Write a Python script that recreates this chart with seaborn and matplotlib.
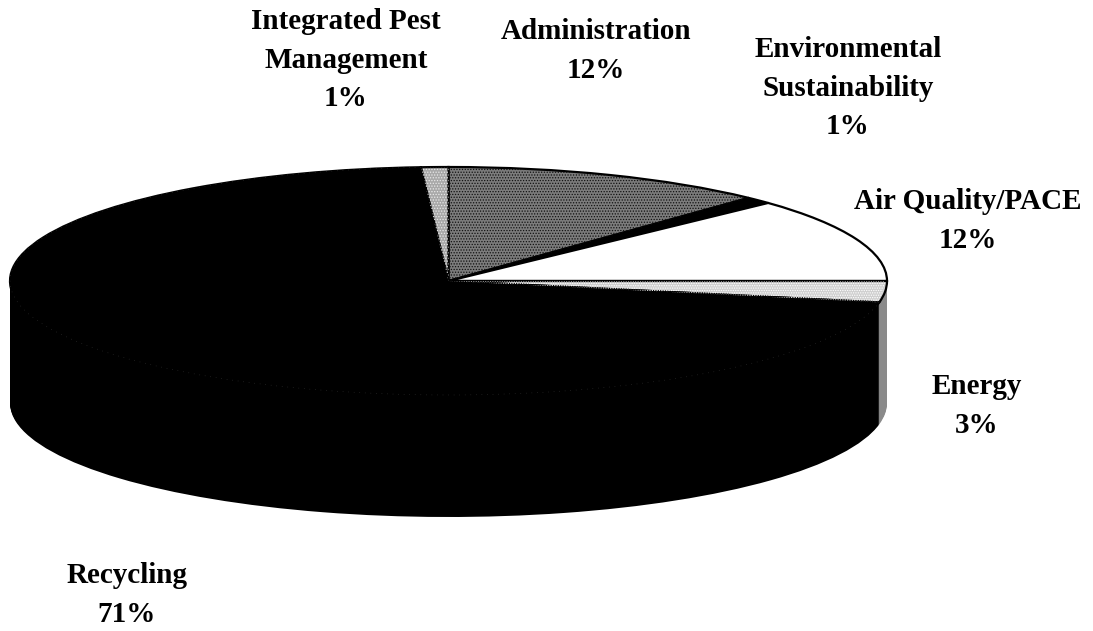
import numpy as np
import seaborn as sns
import matplotlib.pyplot as plt

# budget shares, clockwise from 12 o'clock
categories = ["Administration", "Environmental\nSustainability", "Air Quality/PACE",
              "Energy", "Recycling", "Integrated Pest\nManagement"]
shares = [12, 1, 12, 3, 71, 1]

W, H = 1093, 631
# top face of the pie in pixels
cx, cy, rx, ry, depth = 448.5, 281, 438.5, 114, 122

sns.set_theme(style="white")
plt.rcParams['font.family'] = ['Liberation Serif', 'DejaVu Serif']
plt.rcParams['hatch.linewidth'] = 0.6

top_colors = sns.color_palette(["#7c7c7c", "#000000", "#ffffff", "#cfcfcf", "#000000", "#a8a8a8"])
side_colors = sns.color_palette(["#555555", "#000000", "#dddddd", "#8a8a8a", "#000000", "#777777"])

fig = plt.figure(figsize=(W / 100, H / 100), dpi=100)
ax = fig.add_axes([0, 0, 1, 1])

# side wall: stack of flattened pies, one per pixel of depth
for d in np.arange(depth, 0, -1):
    wedges, _ = ax.pie(shares, colors=side_colors, startangle=90, counterclock=False,
                       center=(0, -d / ry), radius=1, wedgeprops={'linewidth': 0})

# top face
wedges, _ = ax.pie(shares, colors=top_colors, startangle=90, counterclock=False,
                   radius=1, wedgeprops={'linewidth': 1.6, 'edgecolor': 'black'})

# scan stipple on the grey slices
stipple = {0: ('......', '#111111'), 3: ('.......', '#ffffff'), 5: ('......', '#e8e8e8')}
for i, (h, col) in stipple.items():
    ax.pie(shares, colors=['none'] * len(shares), startangle=90, counterclock=False, radius=0.995,
           wedgeprops={'linewidth': 0})[0][i].set(hatch=h, edgecolor=col, linewidth=0, fill=False)

# faint dotted rim of the recycling slice, shows through the black in the scan
rim = ax.pie(shares, colors=['none'] * len(shares), startangle=90, counterclock=False, radius=1,
             wedgeprops={'linewidth': 0})[0][4]
rim.set(edgecolor='#333333', linewidth=0.5, linestyle=(0, (1, 7)), fill=False)

ax.set_aspect('auto')
ax.set_xlim(-cx / rx, (W - cx) / rx)
ax.set_ylim(-(H - cy) / ry, cy / ry)
ax.axis('off')

labels = ["Administration\n12%", "Environmental\nSustainability\n1%", "Air Quality/PACE\n12%",
          "Energy\n3%", "Recycling\n71%", "Integrated Pest\nManagement\n1%"]
label_xy = [(596, 51), (848, 88), (968, 221), (977, 406), (127, 595), (346, 60)]
for lab, (x, y) in zip(labels, label_xy):
    fig.text(x / W, 1 - y / H, lab, ha='center', va='center', fontsize=21, fontweight='bold',
             color='black', linespacing=1.55)

plt.savefig("out.png", dpi=100)
